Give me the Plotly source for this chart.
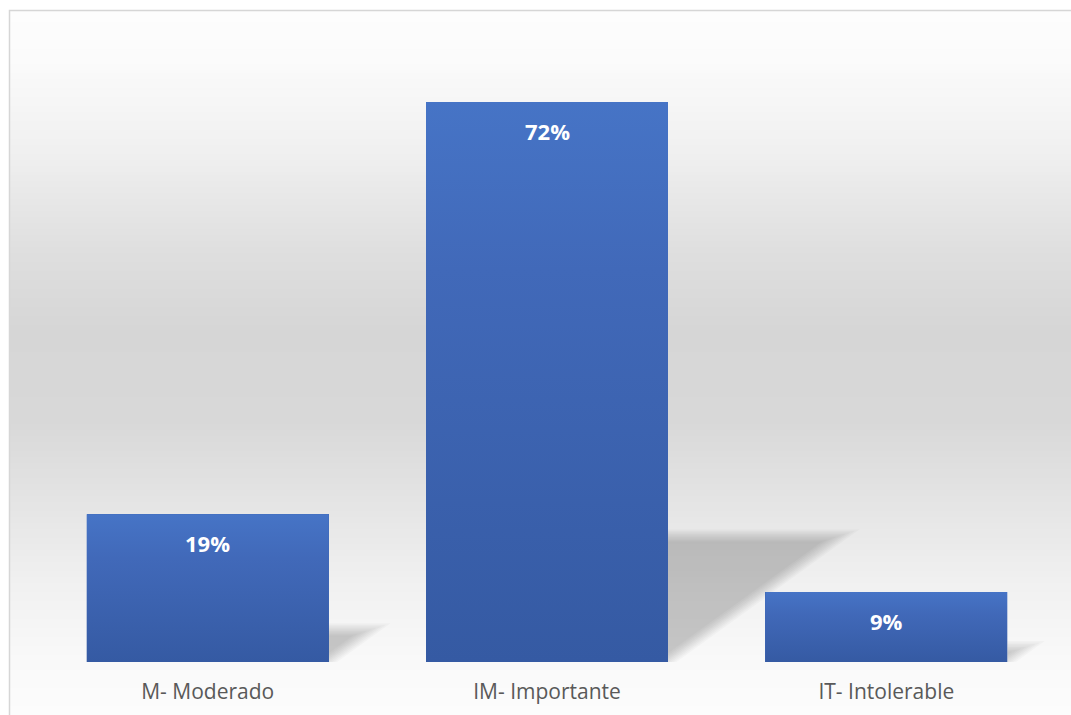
import numpy as np
import plotly.graph_objects as go

# Risk levels and their share of the total
categories = ["M- Moderado", "IM- Importante", "IT- Intolerable"]
shares = [19, 72, 9]

W, H = 1071, 715
M_L, M_R, M_T, M_B = 38, 15, 30, 53
PLOT_W = W - M_L - M_R
PLOT_H = H - M_T - M_B
Y_MAX = 81.26
X_RANGE = (-0.5, 2.5)
BAR_W = 0.713

px_per_x = PLOT_W / (X_RANGE[1] - X_RANGE[0])
px_per_y = PLOT_H / Y_MAX

BAR_TOP = "#4674c6"
BAR_BOTTOM = "#355aa3"

fig = go.Figure()

# Base bars
fig.add_trace(go.Bar(
    x=list(range(len(categories))), y=shares, width=BAR_W,
    marker=dict(color="#3e67b5", line=dict(width=0)),
    hoverinfo="skip", showlegend=False,
))


def shadow_polygon(xc, value, grow_px):
    """Floor shadow cast to the right of a bar, grown/shrunk by grow_px pixels."""
    x1 = (xc + BAR_W / 2) * px_per_x
    h = value * px_per_y
    ht = 0.228 * h
    dx = 0.315 * h
    top = ht + grow_px
    # diagonal from (x1, 0) to (x1+dx, ht), shifted along its outward normal
    ln = np.hypot(dx, ht)
    nx, ny = ht / ln, -dx / ln
    ox, oy = nx * grow_px, ny * grow_px
    t_top = (top - oy) / ht
    cx = x1 + ox + t_top * dx
    t_base = (0 - oy) / ht
    bx = x1 + ox + t_base * dx
    if bx >= x1:
        pts = [(x1, 0), (bx, 0), (cx, top), (x1, top)]
    else:
        t_left = (x1 - (x1 + ox)) / dx
        yl = oy + t_left * ht
        pts = [(x1, yl), (cx, top), (x1, top)]
    xs = [p[0] / px_per_x for p in pts]
    ys = [p[1] / px_per_y for p in pts]
    return xs + [xs[0]], ys + [ys[0]]


# Soft shadows: several stacked translucent layers
for i, v in enumerate(shares):
    for g in np.linspace(-7, 5, 9):
        sx, sy = shadow_polygon(i, v, g)
        fig.add_trace(go.Scatter(
            x=sx, y=sy, mode="lines", fill="toself",
            fillcolor="rgba(0,0,0,0.025)", line=dict(width=0),
            hoverinfo="skip", showlegend=False,
        ))

# Gradient faces on the bars
for i, v in enumerate(shares):
    x0, x1 = i - BAR_W / 2, i + BAR_W / 2
    fig.add_trace(go.Scatter(
        x=[x0, x1, x1, x0, x0], y=[0, 0, v, v, 0],
        mode="lines", fill="toself", line=dict(width=0),
        fillgradient=dict(type="vertical",
                          colorscale=[[0, BAR_BOTTOM], [0.7, "#4169b9"], [1, BAR_TOP]]),
        hoverinfo="skip", showlegend=False,
    ))

# Value labels inside the top of each bar
for i, v in enumerate(shares):
    fig.add_annotation(
        x=i, y=v, text=f"<b>{v}%</b>", showarrow=False,
        yanchor="middle", yshift=-29,
        font=dict(family="Open Sans", size=22, color="white"),
    )

# Chart-area background: vertical light-grey gradient
stops_py = [10, 60, 150, 250, 330, 420, 500, 580, 660, 715]
stops_g = [253, 251, 240, 223, 214, 216, 228, 240, 249, 252]
shapes = []
band = 3
for py in range(10, H + band, band):
    g = int(round(np.interp(py + band / 2, stops_py, stops_g)))
    shapes.append(dict(
        type="rect", xref="paper", yref="paper", layer="below",
        x0=(9 - M_L) / PLOT_W, x1=(W + 10 - M_L) / PLOT_W,
        y0=(H - M_B - py) / PLOT_H, y1=(H - M_B - (py + band)) / PLOT_H,
        fillcolor=f"rgb({g},{g},{g})", line=dict(width=0),
    ))
shapes.append(dict(
    type="rect", xref="paper", yref="paper", layer="below",
    x0=(9.5 - M_L) / PLOT_W, x1=(W + 20 - M_L) / PLOT_W,
    y0=(H - M_B - 10.5) / PLOT_H, y1=(H - M_B - (H + 20)) / PLOT_H,
    fillcolor="rgba(0,0,0,0)", line=dict(color="#d6d6d6", width=1.5),
))

fig.update_layout(
    width=W, height=H,
    margin=dict(l=M_L, r=M_R, t=M_T, b=M_B, pad=0, autoexpand=False),
    paper_bgcolor="white", plot_bgcolor="rgba(0,0,0,0)",
    shapes=shapes, showlegend=False, bargap=0,
    xaxis=dict(
        range=list(X_RANGE), tickvals=list(range(len(categories))),
        ticktext=categories, showgrid=False, zeroline=False, showline=False,
        ticks="", ticklabelstandoff=15, automargin=False,
        tickfont=dict(family="Open Sans", size=21, color="#595959"),
        fixedrange=True,
    ),
    yaxis=dict(
        range=[0, Y_MAX], visible=False, showgrid=False, zeroline=False,
        automargin=False, fixedrange=True,
    ),
)

fig.write_html("out.html")
